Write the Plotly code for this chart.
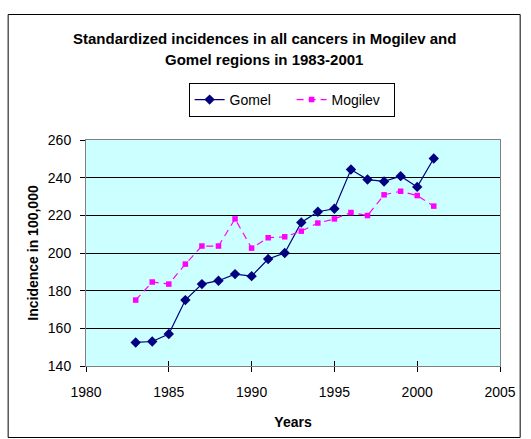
import plotly.graph_objects as go

# Standardized cancer incidence per 100,000, 1983-2001
years = list(range(1983, 2002))
gomel = [152.5, 153, 157, 175, 183.5, 185.3, 188.8, 187.7, 196.8, 200,
         216.2, 221.9, 223.5, 244.3, 239, 238, 240.8, 235.1, 250.2]
mogilev = [175, 184.6, 183.5, 194.1, 203.7, 203.7, 218.1, 202.6, 208.1, 208.6,
           211.6, 215.9, 218.1, 221.5, 219.9, 230.9, 232.8, 230.5, 224.9]

x_ticks = [1980, 1985, 1990, 1995, 2000, 2005]
y_ticks = [140, 160, 180, 200, 220, 240, 260]

W, H = 531, 439
L, R, T, B = 85.5, 30.7, 140, 73
pw, ph = W - L - R, H - T - B

FONT = "Liberation Sans, Arial, sans-serif"

fig = go.Figure()
fig.add_trace(go.Scatter(
    x=years, y=gomel, name="Gomel", mode="lines+markers",
    line=dict(color="#000080", width=1.2),
    marker=dict(symbol="diamond", size=8, color="#000080"),
))
fig.add_trace(go.Scatter(
    x=years, y=mogilev, name="Mogilev", mode="lines+markers",
    line=dict(color="#FF00FF", width=1.2, dash="7px,5px"),
    marker=dict(symbol="square", size=5.5, color="#FF00FF"),
))


def px_to_paper_x(px):
    return (px - L) / pw


def px_to_paper_y(py):
    return (H - B - py) / ph


fig.update_layout(
    width=W, height=H,
    margin=dict(l=L, r=R, t=T, b=B, pad=0),
    paper_bgcolor="white",
    plot_bgcolor="#CCFFFF",
    font=dict(family=FONT, size=14, color="black"),
    showlegend=True,
    legend=dict(
        orientation="h", x=px_to_paper_x(291.5), xanchor="center",
        y=px_to_paper_y(83), yanchor="top",
        bordercolor="black", borderwidth=1,
        font=dict(family=FONT, size=14),
        tracegroupgap=0, entrywidth=57, entrywidthmode="pixels",
    ),
    xaxis=dict(
        range=[1980, 2005], tickvals=x_ticks, ticks="outside", ticklen=5,
        tickcolor="black", showgrid=False, zeroline=False,
        showline=True, linecolor="#808080", linewidth=1, mirror=True,
        tickfont=dict(size=14), ticklabelstandoff=8,
        title=dict(text="<b>Years</b>", font=dict(size=14), standoff=18),
    ),
    # inward half of the cross-style tick marks on the year axis
    xaxis2=dict(
        range=[1980, 2005], tickvals=x_ticks, ticks="inside", ticklen=5,
        tickcolor="black", showgrid=False, zeroline=False, showline=False,
        showticklabels=False, overlaying="x", side="bottom", anchor="y",
    ),
    yaxis=dict(
        range=[140, 260], tickvals=y_ticks, ticks="outside", ticklen=5,
        tickcolor="black", showgrid=True, gridcolor="black", gridwidth=1,
        zeroline=False,
        showline=True, linecolor="#808080", linewidth=1, mirror=True,
        tickfont=dict(size=14), ticklabelstandoff=6,
        title=dict(text="<b>Incidence in 100,000</b>", font=dict(size=14), standoff=5),
    ),
    shapes=[dict(
        type="rect", xref="paper", yref="paper",
        x0=px_to_paper_x(7.5), x1=px_to_paper_x(520.5),
        y0=px_to_paper_y(437.5), y1=px_to_paper_y(14.5),
        line=dict(color="black", width=1), layer="below",
    )],
    annotations=[
        dict(text="<b>Standardized incidences in all cancers in Mogilev and</b>",
             xref="paper", yref="paper", x=px_to_paper_x(264), y=px_to_paper_y(38.5),
             xanchor="center", yanchor="middle", showarrow=False,
             font=dict(family=FONT, size=15)),
        dict(text="<b>Gomel regions in 1983-2001</b>",
             xref="paper", yref="paper", x=px_to_paper_x(264), y=px_to_paper_y(59.5),
             xanchor="center", yanchor="middle", showarrow=False,
             font=dict(family=FONT, size=15)),
    ],
)

# invisible carrier trace so the secondary x axis is drawn
fig.add_trace(go.Scatter(x=[1980], y=[140], xaxis="x2", mode="markers",
                         marker=dict(opacity=0), showlegend=False, hoverinfo="skip"))

fig.write_html("out.html")
